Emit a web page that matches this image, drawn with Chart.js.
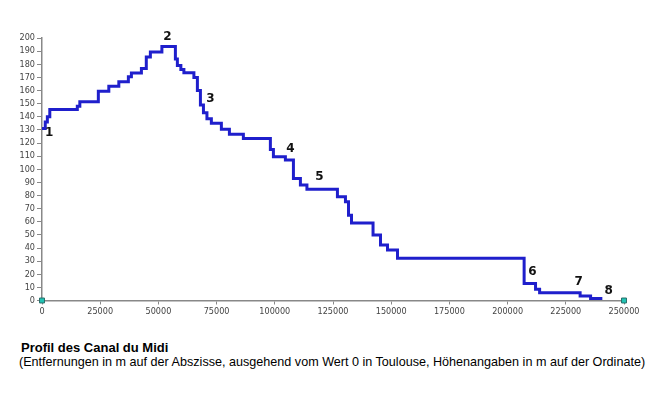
<!DOCTYPE html>
<html>
<head>
<meta charset="utf-8">
<script src="https://cdn.jsdelivr.net/npm/chart.js@4"></script>
<style>
  body { margin: 0; background: #fff; width: 658px; height: 393px; overflow: hidden; }
  #wrap { position: relative; width: 658px; height: 322px; }
  .cap { position: absolute; left: 20px; font-family: 'Liberation Sans', Arial, sans-serif; color: #000; white-space: nowrap; line-height: 15px; }
</style>
</head>
<body>
<div id="wrap"><canvas id="profil"></canvas></div>
<div class="cap" style="top:340px; left:21px; font-size:13px; font-weight:bold;">Profil des Canal du Midi</div>
<div class="cap" style="top:355px; left:19px; font-size:12.6px;">(Entfernungen in m auf der Abszisse, ausgehend vom Wert 0 in Toulouse, Höhenangaben in m auf der Ordinate)</div>
<script>
// distance from Toulouse (m) where each level starts, and the level (m)
const distances = [0, 1400, 2300, 3350, 15170, 16250, 24200, 28700, 33000,
  37100, 38400, 42700, 44800, 46550, 51500, 57300, 58150, 59650, 60950,
  65250, 66750, 68050, 69350, 70850, 72750, 77050, 80500, 86500, 98100,
  99400, 104550, 108000, 111000, 113800, 126900, 130350, 131650, 132950, 142200,
  145400, 148400, 152700, 207100, 212000, 213750, 231150, 235650, 240700];
const heights = [131, 136, 140, 145.5, 148, 151.5, 159.5, 163.3, 166.6,
  170.4, 173.4, 176.8, 185.5, 189.4, 193.5, 184, 179, 176, 173.5,
  170, 160, 149, 143, 138.5, 135, 130.5, 126.7, 123.5, 115,
  109.5, 107, 93, 88, 84.7, 79, 75.2, 65, 59, 50,
  42.3, 38.4, 32.1, 13, 8.5, 6, 3.5, 1.5, 1.5];

// axis end markers
const endX = [0, 250000];
const endY = [0, 0];

// numbered points along the profile
const markerNames = ['1', '2', '3', '4', '5', '6', '7', '8'];
const markerX = [3100, 53900, 72300, 106700, 119200, 210700, 230500, 243400];
const markerY = [127.5, 200.6, 153.4, 115.3, 94, 21.7, 14.1, 7.2];

const xTicks = [0, 25000, 50000, 75000, 100000, 125000, 150000, 175000, 200000, 225000, 250000];

const numberLabels = {
  id: 'numberLabels',
  afterDatasetsDraw(chart) {
    const c = chart.ctx, xs = chart.scales.x, ys = chart.scales.y;
    c.save();
    c.fillStyle = '#111';
    c.font = 'bold 12px "DejaVu Sans"';
    c.textAlign = 'center';
    c.textBaseline = 'middle';
    markerNames.forEach((n, i) => {
      c.fillText(n, xs.getPixelForValue(markerX[i]), ys.getPixelForValue(markerY[i]));
    });
    c.restore();
  }
};

const tickFont = { family: '"DejaVu Sans Condensed", "DejaVu Sans"', size: 9 };

new Chart(document.getElementById('profil'), {
  type: 'line',
  data: {
    datasets: [
      {
        data: distances.map((d, i) => ({ x: d, y: heights[i] })),
        borderColor: '#1f1fcc',
        borderWidth: 3,
        stepped: 'before',
        pointRadius: 0,
        fill: false
      },
      {
        data: endX.map((d, i) => ({ x: d, y: endY[i] })),
        showLine: false,
        pointStyle: 'rect',
        pointRadius: 3.5,
        backgroundColor: '#22c4b4',
        borderColor: '#2a6f6a',
        borderWidth: 1,
        clip: false
      }
    ]
  },
  options: {
    responsive: true,
    maintainAspectRatio: false,
    animation: false,
    layout: { padding: { top: 38, right: 34, left: 0, bottom: 0 } },
    plugins: { legend: { display: false }, tooltip: { enabled: false } },
    scales: {
      x: {
        type: 'linear',
        min: 0,
        max: 250000,
        afterBuildTicks: s => { s.ticks = xTicks.map(v => ({ value: v })); },
        afterFit: s => { s.height = 21.5; },
        ticks: { color: '#444', font: tickFont, padding: 2, maxRotation: 0, autoSkip: false, callback: v => String(v) },
        grid: { drawOnChartArea: false, tickLength: 4, color: '#888' },
        border: { color: '#888', width: 1.5 }
      },
      y: {
        min: 0,
        max: 200,
        afterFit: s => { s.width = 42; },
        ticks: { stepSize: 10, color: '#444', font: tickFont, padding: 2, autoSkip: false, callback: v => String(v) },
        grid: { drawOnChartArea: false, tickLength: 5, color: '#888' },
        border: { color: '#888', width: 1.5 }
      }
    }
  },
  plugins: [numberLabels]
});
</script>
</body>
</html>
